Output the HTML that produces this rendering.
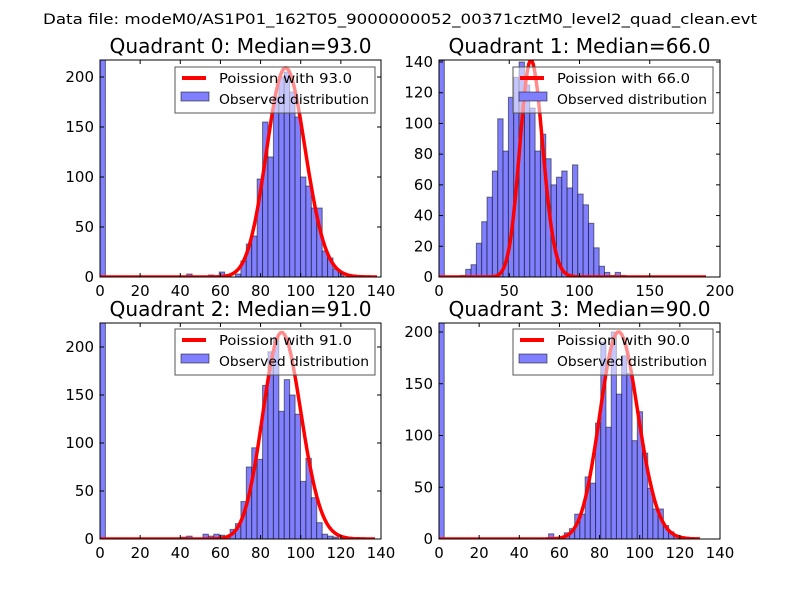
<!DOCTYPE html>
<html><head><meta charset="utf-8"><style>
body{margin:0;background:#fff}
svg text{font-family:"DejaVu Sans","Liberation Sans",sans-serif}
</style></head><body>
<svg id="fig" width="800" height="600" xmlns="http://www.w3.org/2000/svg">
<rect width="800" height="600" fill="#fff"/>
<text x="43" y="24" font-size="14.5" textLength="714" lengthAdjust="spacingAndGlyphs">Data file: modeM0/AS1P01_162T05_9000000052_00371cztM0_level2_quad_clean.evt</text>
</svg>
<script>
const titles=["Quadrant 0: Median=93.0","Quadrant 1: Median=66.0","Quadrant 2: Median=91.0","Quadrant 3: Median=90.0"];
const medians=[93,66,91,90];
const curvePeaks=[209,141,215,200];
const curveMax=[138,190,137,130];
const binWidths=[2.7,3.8,2.7,2.6];
const xMaxes=[140,200,140,140];
const yMaxes=[217,141.3,225,208.7];
const xTicks0=[0,20,40,60,80,100,120,140];
const xTicks1=[0,50,100,150,200];
const yTicks0=[0,50,100,150,200];
const yTicks1=[0,20,40,60,80,100,120,140];
const counts0=[218,0,0,0,0,0,0,0,0,0,0,0,0,0,0,0,3,0,0,0,2,0,5,0,0,3,16,33,41,98,155,120,180,200,205,185,160,100,91,69,69,26,19,8,5,0,0,0,0,0];
const counts1=[141,0,0,0,1,5,8,22,36,52,69,103,82,117,130,140,125,110,82,93,77,60,65,69,58,73,54,47,35,19,7,3,1,3,1,0,0,0,0,0,0,0,0,0,0,0,0,0,0,0];
const counts2=[225,0,0,0,0,0,0,0,0,0,0,0,0,0,0,2,3,0,0,5,3,5,4,3,10,16,39,75,95,83,160,195,210,133,166,150,130,60,84,43,17,5,3,2,0,0,0,0,0,0];
const counts3=[209,0,0,0,0,0,0,0,0,0,0,0,0,0,0,0,0,0,1,0,0,5,0,2,6,10,24,24,60,54,112,190,108,200,140,177,160,95,123,83,49,29,29,13,7,3,1,0,0,0];
const allCounts=[counts0,counts1,counts2,counts3];
const boxes=[[100,60,381,277],[439,60,720,277],[100,323,381,539],[439,323,720,539]];
const NS="http://www.w3.org/2000/svg";
const svg=document.getElementById('fig');
function mk(tag,attrs,parent){const e=document.createElementNS(NS,tag);for(const k in attrs)e.setAttribute(k,attrs[k]);(parent||svg).appendChild(e);return e;}
function lnpmf(k,l){let lf=0;for(let i=2;i<=k;i++)lf+=Math.log(i);return k*Math.log(l)-l-lf;}
for(let q=0;q<4;q++){
  const [L,T,R,B]=boxes[q];
  const g=mk('g',{});
  
  
  const xs=v=>L+(R-L)*v/xMaxes[q];
  const ys=v=>B-(B-T)*v/yMaxes[q];
  const cp=mk('clipPath',{id:'c'+q},g);mk('rect',{x:L,y:T,width:R-L,height:B-T},cp);
  const bars=mk('g',{'clip-path':'url(#c'+q+')'},g);
  allCounts[q].forEach((c,i)=>{ if(c<=0)return;
    const x0=xs(i*binWidths[q]),x1=xs((i+1)*binWidths[q]);
    const r=mk('rect',{x:x0,y:ys(c),width:x1-x0,height:B-ys(c),fill:'rgb(128,128,255)',stroke:'rgba(0,0,0,0.5)','stroke-width':1},bars);
    
    
  });
  const lam=medians[q];const pk=lnpmf(Math.round(lam),lam);
  let d='';for(let k=0;k<=curveMax[q];k++){const v=curvePeaks[q]*Math.exp(lnpmf(k,lam)-pk);d+=(k?'L':'M')+xs(k).toFixed(1)+','+ys(v).toFixed(1);}
  const pl=mk('path',{d:d,fill:'none',stroke:'#f00','stroke-width':3.5,'stroke-linejoin':'round','clip-path':'url(#c'+q+')'},g);
  
  
  mk('rect',{x:L,y:T,width:R-L,height:B-T,fill:'none',stroke:'#000','stroke-width':1},g);
  const xt=q==1?xTicks1:xTicks0, yt=q==1?yTicks1:yTicks0;
  xt.forEach(v=>{const x=xs(v);mk('line',{x1:x,x2:x,y1:B,y2:B-4,stroke:'#000'},g);mk('line',{x1:x,x2:x,y1:T,y2:T+4,stroke:'#000'},g);
    const t=mk('text',{x:x,y:B+19,'font-size':15,'text-anchor':'middle'},g);t.textContent=v;
    });
  yt.forEach(v=>{const y=ys(v);mk('line',{x1:L,x2:L+4,y1:y,y2:y,stroke:'#000'},g);mk('line',{x1:R,x2:R-4,y1:y,y2:y,stroke:'#000'},g);
    const t=mk('text',{x:L-6,y:y+5,'font-size':15,'text-anchor':'end'},g);t.textContent=v;
    });
  const tt=mk('text',{x:(L+R)/2-131,y:T-7,'font-size':20,textLength:262,lengthAdjust:'spacingAndGlyphs'},g);tt.textContent=titles[q];
  
  const lx=q%2?513:175, ly=q<2?67:329;
  const lg=mk('g',{},g);
  
  mk('rect',{x:lx,y:ly,width:200,height:46,fill:'rgba(255,255,255,0.55)',stroke:'#555','stroke-width':1},lg);
  mk('line',{x1:lx+7,x2:lx+31,y1:ly+11,y2:ly+11,stroke:'#f00','stroke-width':4},lg);
  mk('rect',{x:lx+6,y:ly+25,width:28,height:9,fill:'rgb(128,128,255)',stroke:'rgba(0,0,0,0.5)'},lg);
  const t1=mk('text',{x:lx+44,y:ly+16,'font-size':13,textLength:133,lengthAdjust:'spacingAndGlyphs'},lg);t1.textContent='Poission with '+medians[q].toFixed(1);
  
  const t2=mk('text',{x:lx+44,y:ly+37,'font-size':13,textLength:150,lengthAdjust:'spacingAndGlyphs'},lg);t2.textContent='Observed distribution';
  
}
</script>
</body></html>
